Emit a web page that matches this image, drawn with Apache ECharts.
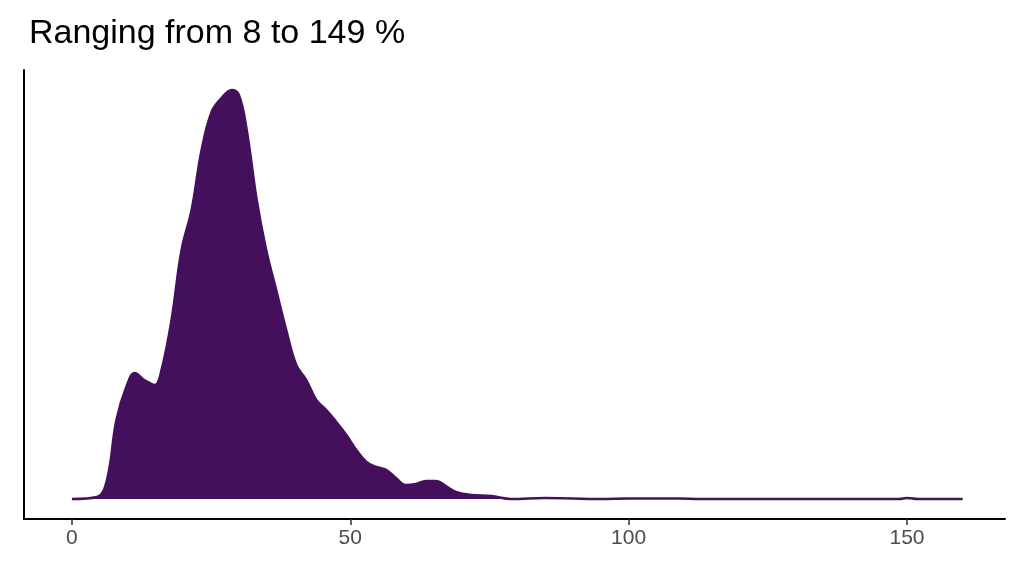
<!DOCTYPE html>
<html>
<head>
<meta charset="utf-8">
<script src="https://cdn.jsdelivr.net/npm/echarts@6/dist/echarts.min.js"></script>
<style>html,body{margin:0;padding:0;background:#fff}#chart{width:1024px;height:576px}</style>
</head>
<body>
<div id="chart"></div>
<script>
// density estimate, x in %, y in arbitrary density units
const xs = [0, 4.5, 6.3, 8, 9.9, 11.3, 13, 14.9, 16.1, 17.9, 19.7, 21.5, 23.3, 25.1, 26.9, 28.7, 30, 31.4, 33.2, 34.9, 36.7, 38.5, 40.3, 42.1, 43.9, 45.7, 47.5, 49.3, 51.1, 52.9, 54.7, 56.5, 58.2, 60, 61.8, 63.6, 65.4, 67.2, 69, 71.7, 75.3, 78.9, 85, 95, 100, 109, 113, 148.6, 150, 152, 160];
const ys = [0, 2, 19, 79, 114, 126, 119, 114, 129, 179, 249, 289, 349, 387, 401, 409, 404, 369, 299, 249, 209, 169, 134, 119, 99, 89, 77, 64, 49, 37, 32, 29, 21, 14, 15, 18, 18, 13, 7, 4, 3, 0, 1, 0, 0.5, 0.5, 0, 0, 1, 0, 0];
const xTicks = [0, 50, 100, 150];
const title = 'Ranging from 8 to 149 %';

const chart = echarts.init(document.getElementById('chart'));
chart.setOption({
  animation: false,
  title: { text: title, left: 24, top: 12, textStyle: { fontFamily: 'Liberation Sans', fontSize: 34, fontWeight: 'normal', color: '#000' } },
  grid: { left: 24, right: 19, top: 70, bottom: 57 },
  xAxis: {
    type: 'value', min: -8.6, max: 167.6,
    splitLine: { show: false },
    axisLine: { onZero: false, lineStyle: { color: '#000', width: 2 } },
    axisTick: { customValues: xTicks, length: 6, lineStyle: { color: '#333', width: 1.5 } },
    axisLabel: { customValues: xTicks, color: '#4d4d4d', fontSize: 21, fontFamily: 'Liberation Sans', margin: 9 }
  },
  yAxis: {
    type: 'value', min: -20, max: 429,
    splitLine: { show: false },
    axisLine: { show: true, onZero: false, lineStyle: { color: '#000', width: 2 } },
    axisTick: { show: false },
    axisLabel: { show: false }
  },
  series: [{
    type: 'line', smooth: 0.4, symbol: 'none',
    data: xs.map((x, i) => [x, ys[i]]),
    lineStyle: { color: '#45105b', width: 2.5 },
    areaStyle: { color: '#45105b', opacity: 1, origin: 0 }
  }]
});
</script>
</body>
</html>
